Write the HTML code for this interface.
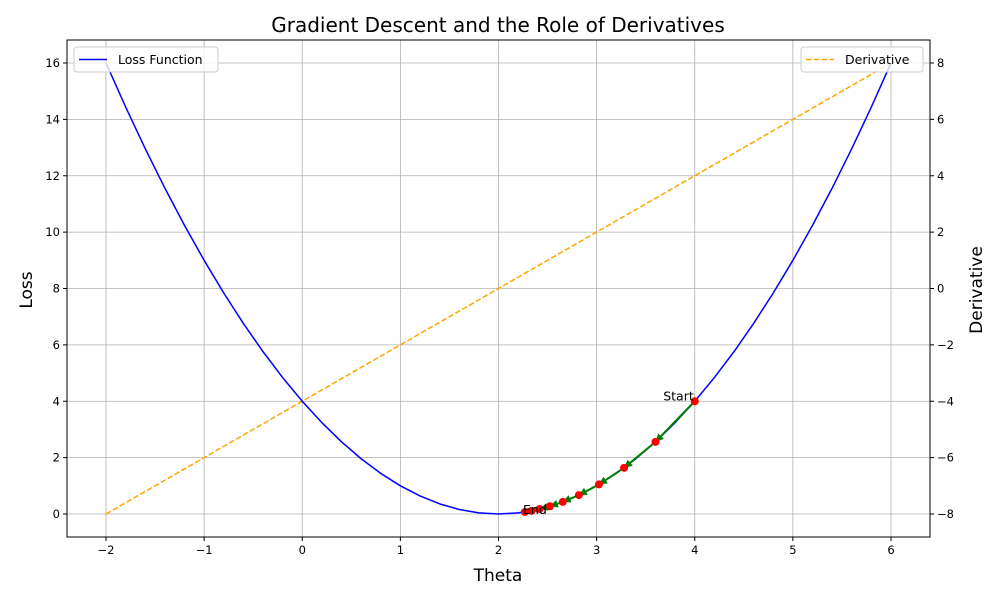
<!DOCTYPE html>
<html><head><meta charset="utf-8">
<style>
body{margin:0;background:#fff;font-family:"Liberation Sans","DejaVu Sans",sans-serif;}
svg text{font-family:"DejaVu Sans","Liberation Sans",sans-serif;}
</style></head>
<body>
<svg id="chart" width="1000" height="600" xmlns="http://www.w3.org/2000/svg"></svg>
<script>
const thetaVals=[-2,-1.8,-1.6,-1.4,-1.2,-1,-0.8,-0.6,-0.4,-0.2,0,0.2,0.4,0.6,0.8,1,1.2,1.4,1.6,1.8,2,2.2,2.4,2.6,2.8,3,3.2,3.4,3.6,3.8,4,4.2,4.4,4.6,4.8,5,5.2,5.4,5.6,5.8,6];
const lossVals=[16,14.44,12.96,11.56,10.24,9,7.84,6.76,5.76,4.84,4,3.24,2.56,1.96,1.44,1,0.64,0.36,0.16,0.04,0,0.04,0.16,0.36,0.64,1,1.44,1.96,2.56,3.24,4,4.84,5.76,6.76,7.84,9,10.24,11.56,12.96,14.44,16];
const derivTheta=[-2,6];
const derivVals=[-8,8];
const stepTheta=[4,3.6,3.28,3.024,2.819,2.655,2.524,2.419,2.336,2.268];
const stepLoss=[4,2.56,1.638,1.049,0.671,0.429,0.275,0.176,0.113,0.072];
const xTicks=[-2,-1,0,1,2,3,4,5,6];
const yTicks=[0,2,4,6,8,10,12,14,16];
const y2Ticks=[-8,-6,-4,-2,0,2,4,6,8];

const svg=document.getElementById('chart');
const NS='http://www.w3.org/2000/svg';
const L=67,R=930,T=40,B=537;
const X=v=>106+(v+2)*98.125;
const Y=v=>514-v*28.1875;
const Y2=v=>288.5-v*28.1875;
function mk(tag,attrs,parent){const e=document.createElementNS(NS,tag);for(const k in attrs)e.setAttribute(k,attrs[k]);(parent||svg).appendChild(e);return e;}

const grid=mk('g',{});


xTicks.forEach(t=>mk('line',{x1:X(t),x2:X(t),y1:T,y2:B,stroke:'#b0b0b0','stroke-width':0.8},grid));
yTicks.forEach(t=>mk('line',{x1:L,x2:R,y1:Y(t),y2:Y(t),stroke:'#b0b0b0','stroke-width':0.8},grid));

const dl=mk('polyline',{points:derivTheta.map((t,i)=>X(t)+','+Y2(derivVals[i])).join(' '),fill:'none',stroke:'orange','stroke-width':1.5,'stroke-dasharray':'5.5,2.4'});



const lc=mk('polyline',{points:thetaVals.map((t,i)=>X(t)+','+Y(lossVals[i])).join(' '),fill:'none',stroke:'blue','stroke-width':1.5,'stroke-linejoin':'round'});



const defs=mk('defs',{});
const mar=mk('marker',{id:'ah',viewBox:'0 0 10 10',refX:10,refY:5,markerWidth:4,markerHeight:4,orient:'auto'},defs);
mk('path',{d:'M0,0 L10,5 L0,10 z',fill:'green'},mar);
for(let i=0;i<stepTheta.length-1;i++){
  const a=mk('line',{x1:X(stepTheta[i]),y1:Y(stepLoss[i]),x2:X(stepTheta[i+1]),y2:Y(stepLoss[i+1]),stroke:'green','stroke-width':2,'marker-end':'url(#ah)'});
  
  
}
stepTheta.forEach((t,i)=>{
  const c=mk('circle',{cx:X(t),cy:Y(stepLoss[i]),r:4,fill:'red'});
  
  
});
let st=mk('text',{x:X(stepTheta[0])-1,y:Y(stepLoss[0])-1,'text-anchor':'end','font-size':12.5});st.textContent='Start';


const n=stepTheta.length-1;
let en=mk('text',{x:X(stepTheta[n])+22,y:Y(stepLoss[n])+2,'text-anchor':'end','font-size':12.5});en.textContent='End';



const fr=mk('rect',{x:L,y:T,width:R-L,height:B-T,fill:'none',stroke:'#000','stroke-width':1});



xTicks.forEach(t=>{mk('line',{x1:X(t),x2:X(t),y1:B,y2:B+4,stroke:'#000'});const tx=mk('text',{x:X(t),y:B+17,'text-anchor':'middle','font-size':11.5});tx.textContent=t<0?'\u2212'+(-t):t;

});
yTicks.forEach(t=>{mk('line',{x1:L-4,x2:L,y1:Y(t),y2:Y(t),stroke:'#000'});const tx=mk('text',{x:L-7,y:Y(t)+4,'text-anchor':'end','font-size':11.5});tx.textContent=t;

});
y2Ticks.forEach(t=>{mk('line',{x1:R,x2:R+4,y1:Y2(t),y2:Y2(t),stroke:'#000'});const tx=mk('text',{x:R+7,y:Y2(t)+4,'text-anchor':'start','font-size':11.5});tx.textContent=t<0?'\u2212'+(-t):t;

});

let t1=mk('text',{x:498,y:32,'text-anchor':'middle','font-size':20});t1.textContent='Gradient Descent and the Role of Derivatives';


let t2=mk('text',{x:498,y:581,'text-anchor':'middle','font-size':17});t2.textContent='Theta';


let t3=mk('text',{x:32,y:290,'text-anchor':'middle','font-size':17,transform:'rotate(-90 32 290)'});t3.textContent='Loss';


let t4=mk('text',{x:982,y:290,'text-anchor':'middle','font-size':17,transform:'rotate(-90 982 290)'});t4.textContent='Derivative';



const lg1=mk('g',{});


mk('rect',{x:74,y:47,width:144,height:25,rx:3,fill:'#fff','fill-opacity':0.8,stroke:'#ccc'},lg1);
mk('line',{x1:79,x2:107,y1:59.5,y2:59.5,stroke:'blue','stroke-width':1.5},lg1);
let lt1=mk('text',{x:118,y:64,'font-size':12.5},lg1);lt1.textContent='Loss Function';
const lg2=mk('g',{});


mk('rect',{x:801,y:47,width:122,height:25,rx:3,fill:'#fff','fill-opacity':0.8,stroke:'#ccc'},lg2);
mk('line',{x1:806,x2:834,y1:59.5,y2:59.5,stroke:'orange','stroke-width':1.5,'stroke-dasharray':'5.5,2.4'},lg2);
let lt2=mk('text',{x:845,y:64,'font-size':12.5},lg2);lt2.textContent='Derivative';
</script>
</body></html>
